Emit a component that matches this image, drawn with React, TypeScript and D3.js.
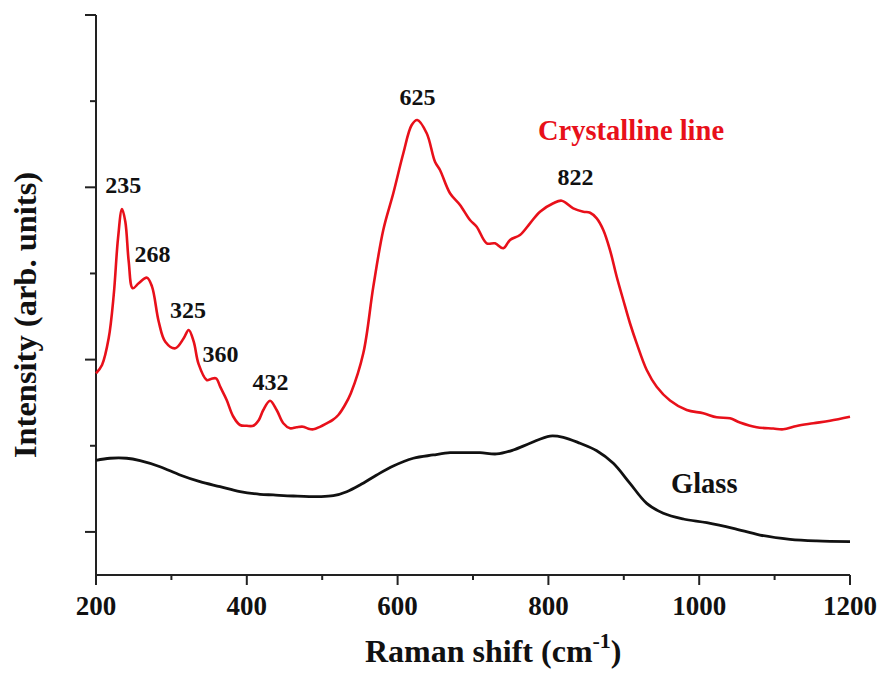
import React from "react";
import * as d3 from "d3";

// Crystalline (red) spectrum: Raman shift (cm-1) and intensity (arb. units)
const crystShift = [
  200, 208, 216.8, 223.5, 229.2, 234.5, 238.9, 243.4, 248.7, 256.6, 267.6, 274.3,
  283.2, 291.9, 305.2, 316.3, 322.9, 329.6, 336, 346.8, 352.5, 359.2, 365, 373.3,
  382, 391, 400, 408.6, 416, 421.9, 430.8, 439.6, 448.4, 457.3, 466, 474.5, 481,
  488.2, 497, 506, 514, 521.4, 530, 538, 554.5, 567.8, 581, 594.3, 607.6, 618.7,
  626.1, 638.6, 649.6, 656.2, 669.5, 682.8, 696, 704.9, 718.2, 729.2, 740.2,
  749.1, 762.3, 775.6, 788.9, 806.5, 817.6, 833, 846.3, 855.3, 864.1, 872.8,
  881.7, 890.6, 899.3, 908.2, 917.1, 930.4, 943.6, 961.3, 983.4, 1005.4, 1023.2,
  1040.8, 1054, 1076.3, 1098.3, 1111.5, 1129.3, 1151.3, 1173.5, 1200,
];
const crystIntensity = [
  2.841, 2.938, 3.247, 3.75, 4.408, 4.748, 4.601, 4.137, 3.828, 3.886, 3.951, 3.847,
  3.44, 3.208, 3.131, 3.247, 3.344, 3.208, 2.95, 2.763, 2.775, 2.783, 2.68, 2.531,
  2.34, 2.241, 2.232, 2.233, 2.3, 2.415, 2.523, 2.415, 2.261, 2.203, 2.215, 2.221,
  2.2, 2.191, 2.22, 2.261, 2.3, 2.357, 2.47, 2.61, 3.073, 3.847, 4.505, 4.931,
  5.395, 5.723, 5.781, 5.627, 5.297, 5.201, 4.931, 4.795, 4.621, 4.543, 4.35,
  4.35, 4.292, 4.389, 4.447, 4.582, 4.717, 4.815, 4.845, 4.756, 4.717, 4.705,
  4.64, 4.505, 4.272, 3.962, 3.692, 3.422, 3.189, 2.88, 2.686, 2.526, 2.415,
  2.377, 2.33, 2.319, 2.27, 2.215, 2.2, 2.191, 2.23, 2.261, 2.291, 2.337,
];

// Glass (black) spectrum
const glassShift = [
  200, 218.6, 240.7, 258.4, 284.9, 311.4, 337.9, 364.5, 391, 417.5, 435.1, 461.7,
  497.1, 514.7, 532.5, 550.1, 572.3, 594.3, 620.8, 647.3, 669.5, 682.8, 709.3,
  731.4, 753.4, 775.6, 802.1, 819.8, 841.9, 864.1, 886.1, 908.2, 930.4, 952.4,
  978.9, 1010, 1045.2, 1080.6, 1120.4, 1155.8, 1200,
];
const glassIntensity = [
  1.83, 1.855, 1.855, 1.827, 1.757, 1.661, 1.583, 1.525, 1.467, 1.437, 1.429, 1.417,
  1.409, 1.42, 1.467, 1.545, 1.661, 1.765, 1.855, 1.893, 1.92, 1.92, 1.92, 1.905,
  1.951, 2.029, 2.113, 2.098, 2.029, 1.943, 1.797, 1.564, 1.332, 1.216, 1.15, 1.107,
  1.042, 0.964, 0.914, 0.895, 0.887,
];

// Peak annotations (label position in data units)
const peakLabels = ["235", "268", "325", "360", "432", "625", "822"];
const peakLabelShift = [236.2, 274.9, 322, 365.1, 431.4, 626.4, 836];
const peakLabelIntensity = [4.931, 4.137, 3.483, 2.976, 2.647, 5.956, 5.027];

const xTickValues = [200, 400, 600, 800, 1000, 1200];
const xMinorTicks = [300, 500, 700, 900, 1100];
const yMajorTicks = [1, 3, 5, 7];
const yMinorTicks = [2, 4, 6];

const RED = "#e8101a";
const FONT = "'Liberation Serif', 'Times New Roman', serif";

export default function App() {
  const x = d3.scaleLinear().domain([200, 1200]).range([96, 850]);
  const y = d3.scaleLinear().domain([0.5, 7]).range([575, 15]);

  const line = d3
    .line<[number, number]>()
    .x((d) => x(d[0]))
    .y((d) => y(d[1]))
    .curve(d3.curveCatmullRom.alpha(0.5));

  const crystPts: [number, number][] = crystShift.map((s, i) => [s, crystIntensity[i]]);
  const glassPts: [number, number][] = glassShift.map((s, i) => [s, glassIntensity[i]]);

  const x0 = x(200);
  const yBottom = y(0.5);

  return (
    <svg
      width={880}
      height={673}
      style={{ position: "absolute", left: 0, top: 0, background: "#fff" }}
      fontFamily={FONT}
    >
      <rect width={880} height={673} fill="#fff" />
      {/* axes */}
      <line x1={x0} x2={x0} y1={y(7)} y2={yBottom} stroke="#222" strokeWidth={2} />
      <line x1={x0} x2={x(1200)} y1={yBottom} y2={yBottom} stroke="#222" strokeWidth={2} />
      {yMajorTicks.map((v) => (
        <line key={"ym" + v} x1={x0 - 11} x2={x0} y1={y(v)} y2={y(v)} stroke="#222" strokeWidth={2} />
      ))}
      {yMinorTicks.map((v) => (
        <line key={"yn" + v} x1={x0 - 6} x2={x0} y1={y(v)} y2={y(v)} stroke="#222" strokeWidth={2} />
      ))}
      {xTickValues.map((v) => (
        <g key={"xt" + v}>
          <line x1={x(v)} x2={x(v)} y1={yBottom} y2={yBottom + 10} stroke="#222" strokeWidth={2} />
          <text x={x(v)} y={615} textAnchor="middle" fontSize={27} fontWeight="bold" fill="#111">
            {v}
          </text>
        </g>
      ))}
      {xMinorTicks.map((v) => (
        <line key={"xn" + v} x1={x(v)} x2={x(v)} y1={yBottom} y2={yBottom + 5} stroke="#222" strokeWidth={2} />
      ))}

      {/* curves */}
      <path d={line(glassPts) || ""} fill="none" stroke="#111" strokeWidth={2.8} />
      <path d={line(crystPts) || ""} fill="none" stroke={RED} strokeWidth={2.6} />

      {/* peak labels */}
      {peakLabels.map((t, i) => (
        <text
          key={t}
          x={x(peakLabelShift[i])}
          y={y(peakLabelIntensity[i])}
          textAnchor="middle"
          fontSize={24}
          fontWeight="bold"
          fill="#111"
        >
          {t}
        </text>
      ))}

      <text x={538} y={140} fontSize={28.5} fontWeight="bold" fill={RED}>
        Crystalline line
      </text>
      <text x={671} y={493} fontSize={28.5} fontWeight="bold" fill="#111">
        Glass
      </text>

      {/* axis titles */}
      <text x={365} y={662} fontSize={32} fontWeight="bold" fill="#111">
        Raman shift (cm
        <tspan fontSize={22} dy={-14}>-1</tspan>
        <tspan dy={14}>)</tspan>
      </text>
      <text
        transform="translate(36,315) rotate(-90)"
        textAnchor="middle"
        fontSize={32.5}
        fontWeight="bold"
        fill="#111"
      >
        Intensity (arb. units)
      </text>
    </svg>
  );
}
